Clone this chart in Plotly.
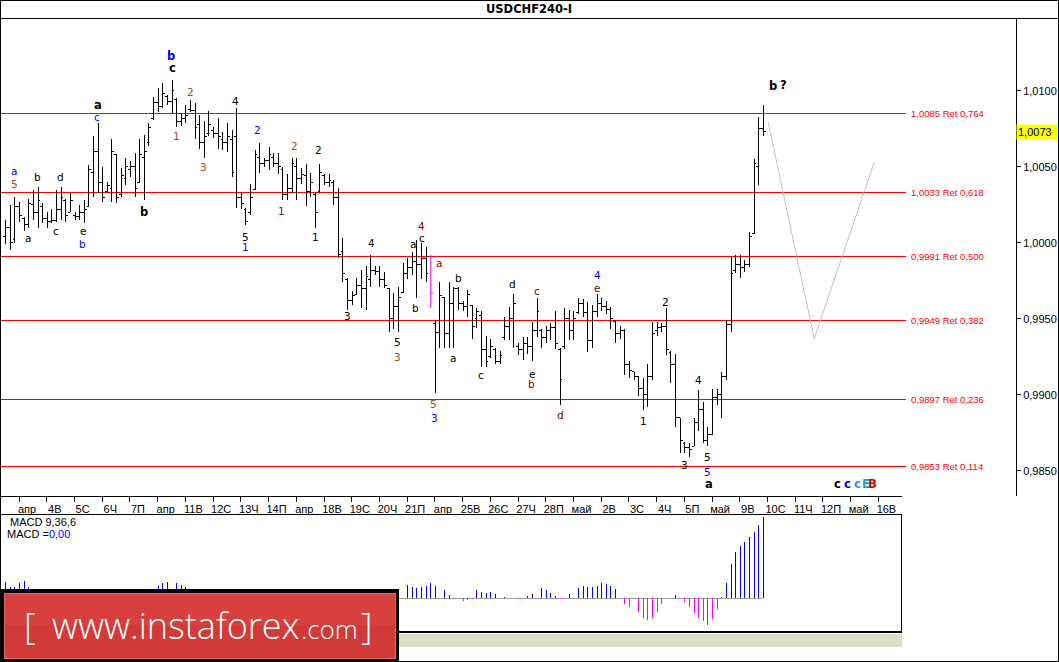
import plotly.graph_objects as go

W, H = 1059, 662

# ---------------- data: USDCHF H4 bars (bar index 0..164) ----------------
bar_open = [1.0004, 1.0010, 1.0002, 1.0024, 1.0016, 1.0012, 1.0025, 1.0020, 1.0024, 1.0016,
            1.0014, 1.0015, 1.0022, 1.0028, 1.0020, 1.0018, 1.0017, 1.0020, 1.0024, 1.0046,
            1.0060, 1.0040, 1.0034, 1.0036, 1.0058, 1.0032, 1.0042, 1.0048, 1.0050, 1.0040,
            1.0056, 1.0066, 1.0082, 1.0092, 1.0090, 1.0096, 1.0093, 1.0094, 1.0080, 1.0082,
            1.0088, 1.0087, 1.0078, 1.0066, 1.0072, 1.0074, 1.0072, 1.0068, 1.0066, 1.0068,
            1.0070, 1.0030, 1.0022, 1.0020, 1.0035, 1.0056, 1.0052, 1.0054, 1.0056, 1.0052,
            1.0048, 1.0032, 1.0036, 1.0050, 1.0042, 1.0044, 1.0034, 1.0032, 1.0034, 1.0044,
            1.0040, 1.0040, 1.0030, 0.9994, 0.9976, 0.9962, 0.9966, 0.9972, 0.9970, 0.9976,
            0.9982, 0.9981, 0.9976, 0.9970, 0.9950, 0.9958, 0.9967, 0.9980, 0.9984, 0.9988,
            0.9986, 0.9990, 0.9980, 0.9947, 0.9941, 0.9964, 0.9940, 0.9960, 0.9970, 0.9960,
            0.9958, 0.9959, 0.9950, 0.9952, 0.9930, 0.9925, 0.9930, 0.9922, 0.9938, 0.9945,
            0.9950, 0.9932, 0.9930, 0.9934, 0.9932, 0.9942, 0.9942, 0.9938, 0.9942, 0.9944,
            0.9930, 0.9932, 0.9950, 0.9942, 0.9954, 0.9960, 0.9954, 0.9936, 0.9955, 0.9960,
            0.9958, 0.9956, 0.9948, 0.9940, 0.9942, 0.9920, 0.9915, 0.9912, 0.9904, 0.9900,
            0.9912, 0.9942, 0.9944, 0.9945, 0.9928, 0.9920, 0.9885, 0.9868, 0.9865, 0.9866,
            0.9882, 0.9890, 0.9870, 0.9874, 0.9898, 0.9900, 0.9912, 0.9946, 0.9982, 0.9986,
            0.9984, 0.9986, 1.0006, 1.0050, 1.0075]
bar_high = [1.0015, 1.0025, 1.0030, 1.0027, 1.0017, 1.0029, 1.0035, 1.0037, 1.0026, 1.0020,
            1.0022, 1.0035, 1.0037, 1.0029, 1.0033, 1.0020, 1.0025, 1.0028, 1.0051, 1.0070,
            1.0079, 1.0050, 1.0040, 1.0068, 1.0058, 1.0049, 1.0056, 1.0054, 1.0059, 1.0068,
            1.0071, 1.0079, 1.0096, 1.0102, 1.0105, 1.0097, 1.0107, 1.0095, 1.0085, 1.0091,
            1.0094, 1.0092, 1.0084, 1.0080, 1.0087, 1.0076, 1.0082, 1.0073, 1.0079, 1.0074,
            1.0089, 1.0033, 1.0023, 1.0039, 1.0061, 1.0066, 1.0056, 1.0063, 1.0059, 1.0059,
            1.0050, 1.0045, 1.0056, 1.0056, 1.0049, 1.0052, 1.0046, 1.0033, 1.0052, 1.0045,
            1.0045, 1.0041, 1.0036, 1.0003, 0.9977, 0.9968, 0.9977, 0.9982, 0.9985, 0.9992,
            0.9985, 0.9985, 0.9981, 0.9970, 0.9967, 0.9971, 0.9987, 0.9990, 0.9994, 1.0002,
            1.0000, 0.9997, 0.9992, 0.9949, 0.9974, 0.9964, 0.9974, 0.9971, 0.9971, 0.9962,
            0.9969, 0.9959, 0.9957, 0.9955, 0.9939, 0.9937, 0.9931, 0.9929, 0.9951, 0.9958,
            0.9966, 0.9934, 0.9938, 0.9938, 0.9948, 0.9964, 0.9943, 0.9945, 0.9947, 0.9955,
            0.9931, 0.9957, 0.9956, 0.9955, 0.9964, 0.9963, 0.9961, 0.9959, 0.9966, 0.9964,
            0.9962, 0.9958, 0.9949, 0.9945, 0.9943, 0.9922, 0.9915, 0.9912, 0.9911, 0.9920,
            0.9948, 0.9948, 0.9947, 0.9957, 0.9929, 0.9927, 0.9885, 0.9869, 0.9868, 0.9885,
            0.9903, 0.9895, 0.9879, 0.9904, 0.9904, 0.9915, 0.9949, 0.9991, 0.9992, 0.9992,
            0.9989, 1.0007, 1.0055, 1.0083, 1.0091]
bar_low = [0.9999, 0.9995, 1.0000, 1.0014, 1.0008, 1.0010, 1.0015, 1.0010, 1.0013, 1.0010,
           1.0013, 1.0014, 1.0015, 1.0014, 1.0020, 1.0015, 1.0015, 1.0013, 1.0024, 1.0030,
           1.0033, 1.0027, 1.0033, 1.0027, 1.0026, 1.0030, 1.0038, 1.0043, 1.0030, 1.0040,
           1.0028, 1.0064, 1.0081, 1.0086, 1.0089, 1.0091, 1.0085, 1.0076, 1.0077, 1.0079,
           1.0086, 1.0068, 1.0062, 1.0056, 1.0070, 1.0069, 1.0062, 1.0061, 1.0060, 1.0043,
           1.0023, 1.0022, 1.0012, 1.0018, 1.0035, 1.0046, 1.0050, 1.0048, 1.0050, 1.0045,
           1.0028, 1.0028, 1.0033, 1.0028, 1.0039, 1.0024, 1.0030, 1.0010, 1.0033, 1.0038,
           1.0037, 1.0025, 0.9990, 0.9974, 0.9956, 0.9959, 0.9966, 0.9957, 0.9956, 0.9971,
           0.9979, 0.9971, 0.9970, 0.9941, 0.9943, 0.9941, 0.9967, 0.9976, 0.9979, 0.9964,
           0.9976, 0.9974, 0.9957, 0.9901, 0.9931, 0.9931, 0.9931, 0.9931, 0.9956, 0.9955,
           0.9951, 0.9937, 0.9944, 0.9918, 0.9918, 0.9924, 0.9920, 0.9920, 0.9936, 0.9936,
           0.9931, 0.9926, 0.9923, 0.9927, 0.9922, 0.9938, 0.9931, 0.9934, 0.9936, 0.9930,
           0.9893, 0.9930, 0.9936, 0.9936, 0.9953, 0.9951, 0.9928, 0.9931, 0.9951, 0.9955,
           0.9953, 0.9943, 0.9934, 0.9937, 0.9913, 0.9911, 0.9910, 0.9899, 0.9890, 0.9892,
           0.9910, 0.9939, 0.9941, 0.9926, 0.9908, 0.9879, 0.9862, 0.9862, 0.9859, 0.9866,
           0.9876, 0.9868, 0.9866, 0.9874, 0.9893, 0.9885, 0.9910, 0.9941, 0.9980, 0.9977,
           0.9981, 0.9984, 1.0006, 1.0038, 1.0070]
bar_close = [1.0010, 1.0000, 1.0024, 1.0018, 1.0012, 1.0026, 1.0020, 1.0028, 1.0016, 1.0014,
             1.0015, 1.0022, 1.0030, 1.0018, 1.0028, 1.0017, 1.0020, 1.0022, 1.0048, 1.0060,
             1.0040, 1.0030, 1.0038, 1.0060, 1.0030, 1.0044, 1.0050, 1.0050, 1.0036, 1.0058,
             1.0060, 1.0076, 1.0092, 1.0090, 1.0098, 1.0093, 1.0100, 1.0080, 1.0082, 1.0084,
             1.0087, 1.0076, 1.0066, 1.0070, 1.0078, 1.0072, 1.0070, 1.0066, 1.0070, 1.0046,
             1.0030, 1.0026, 1.0014, 1.0030, 1.0058, 1.0052, 1.0054, 1.0058, 1.0052, 1.0050,
             1.0032, 1.0036, 1.0052, 1.0042, 1.0045, 1.0034, 1.0040, 1.0020, 1.0046, 1.0040,
             1.0041, 1.0030, 0.9992, 0.9980, 0.9962, 0.9965, 0.9972, 0.9970, 0.9978, 0.9982,
             0.9981, 0.9976, 0.9972, 0.9950, 0.9958, 0.9964, 0.9980, 0.9984, 0.9988, 0.9986,
             0.9990, 0.9980, 0.9967, 0.9941, 0.9965, 0.9940, 0.9960, 0.9970, 0.9960, 0.9958,
             0.9966, 0.9945, 0.9955, 0.9930, 0.9922, 0.9932, 0.9922, 0.9926, 0.9945, 0.9950,
             0.9960, 0.9930, 0.9934, 0.9932, 0.9942, 0.9955, 0.9938, 0.9942, 0.9944, 0.9934,
             0.9910, 0.9950, 0.9942, 0.9950, 0.9960, 0.9954, 0.9936, 0.9955, 0.9960, 0.9958,
             0.9956, 0.9950, 0.9940, 0.9942, 0.9920, 0.9916, 0.9912, 0.9904, 0.9900, 0.9912,
             0.9940, 0.9944, 0.9945, 0.9930, 0.9920, 0.9885, 0.9870, 0.9865, 0.9864, 0.9882,
             0.9890, 0.9870, 0.9874, 0.9898, 0.9900, 0.9912, 0.9946, 0.9980, 0.9986, 0.9984,
             0.9986, 1.0004, 1.0052, 1.0075, 1.0073]
marked_bar = 92  # bar drawn in magenta

# MACD(9,36,6) histogram
macd_hist = [0.0016, 0.0011, 0.0011, 0.0015, 0.0017, 0.0011, 0.0007, 0.0005, 0.0004, 0.0002,
             0.0001, 0.0001, 0.0002, 0.0001, 0.0000, -0.0001, -0.0001, 0.0000, 0.0002, 0.0005,
             0.0007, 0.0007, 0.0006, 0.0005, 0.0006, 0.0006, 0.0006, 0.0006, 0.0005, 0.0005,
             0.0005, 0.0006, 0.0009, 0.0012, 0.0015, 0.0016, 0.0016, 0.0015, 0.0013, 0.0011,
             0.0007, 0.0005, 0.0003, 0.0001, -0.0001, -0.0002, -0.0003, -0.0003, -0.0004, -0.0005,
             -0.0006, -0.0007, -0.0010, -0.0012, -0.0011, -0.0008, -0.0005, -0.0004, -0.0002, -0.0001,
             -0.0001, -0.0003, -0.0004, -0.0004, -0.0004, -0.0004, -0.0005, -0.0005, -0.0007, -0.0007,
             -0.0006, -0.0006, -0.0007, -0.0010, -0.0014, -0.0017, -0.0018, -0.0017, -0.0015, -0.0012,
             -0.0009, -0.0007, -0.0005, -0.0003, -0.0002, 0.0003, 0.0011, 0.0013, 0.0011, 0.0010,
             0.0011, 0.0012, 0.0015, 0.0012, 0.0013, 0.0008, 0.0003, -0.0001, 0.00003, -0.0003,
             -0.0002, -0.0001, 0.0008, 0.0006, 0.0005, 0.0006, 0.0004, 0.00005, 0.0001, 0.00003,
             0.00003, -0.00005, 0.00003, 0.00023, 0.00043, 0.00103, 0.00103, 0.00083, 0.0005, 0.00017,
             -0.00005, 0.00003, 0.00043, 0.00077, 0.00097, 0.00123, 0.00113, 0.0011, 0.00117, 0.00153,
             0.00143, 0.00117, 0.00087, 0.00003, -0.00057, -0.0009, -0.00107, -0.00143, -0.00197, -0.00223,
             -0.00203, -0.00143, -0.00057, 0.00003, 0.00033, 0.00033, 0.0, -0.00043, -0.00093, -0.00153,
             -0.0020, -0.00233, -0.00267, -0.0021, -0.0011, 0.0001, 0.00153, 0.00343, 0.00463, 0.00523,
             0.00563, 0.00613, 0.00663, 0.00733, 0.00813]

# Fibonacci retracement levels
fib_levels = [1.0085, 1.0033, 0.9991, 0.9949, 0.9897, 0.9853]
fib_ratios = [0.764, 0.618, 0.500, 0.382, 0.236, 0.114]

# projected path (grey)
proj_bar = [165.0, 175.0, 188.0]
proj_price = [1.0080, 0.9937, 1.0053]

# x-axis day labels (one every 6 bars)
day_labels = ["апр", "4В", "5С", "6Ч", "7П", "апр", "11В", "12С", "13Ч", "14П", "апр",
              "18В", "19С", "20Ч", "21П", "апр", "25В", "26С", "27Ч", "28П", "май", "2В",
              "3С", "4Ч", "5П", "май", "9В", "10С", "11Ч", "12П", "май", "16В"]
first_label_bar = 2.9
bars_per_day = 6

price_ticks = [0.9850, 0.9900, 0.9950, 1.0000, 1.0050, 1.0100]

# wave labels
BLK, BLU, MAR, ORG, PUR, LBL, RED = "#000000", "#0000ff", "#800000", "#a0501e", "#800060", "#1e9be0", "#d00000"
wave_text = ["b", "c", "a", "c", "2", "1", "3", "4", "a", "5", "b", "d", "a", "c", "e", "b", "b",
             "5", "1", "2", "1", "2", "2", "1", "3", "4", "a", "4", "c", "b", "5", "3", "a", "b",
             "5", "3", "a", "c", "d", "c", "e", "b", "d", "4", "e", "1", "2", "3", "4", "5", "5",
             "a", "b", "?", "c", "c", "c", "E", "B"]
wave_bar = [35.8, 36.0, 20.0, 19.8, 39.9, 36.9, 42.9, 49.8, 1.8, 1.8, 6.8, 11.8, 4.8, 10.9, 16.7, 16.7, 29.9,
            51.8, 51.8, 54.6, 59.8, 62.6, 67.8, 67.0, 73.9, 79.1, 88.2, 89.9, 90.1, 88.8, 84.9, 84.9, 93.8, 97.9,
            92.7, 92.9, 96.8, 102.9, 109.8, 115.0, 113.9, 113.9, 120.0, 128.0, 128.0, 138.0, 142.9, 147.0, 149.9, 152.0, 152.0,
            152.2, 166.1, 168.3, 180.1, 182.1, 184.3, 186.2, 187.7]
wave_price = [1.0123, 1.0115, 1.0091, 1.0083, 1.0099, 1.0070, 1.0050, 1.0093, 1.0047, 1.0039, 1.0043, 1.0043, 1.0003, 1.0008, 1.0008, 0.9999, 1.0020,
              1.0004, 0.9997, 1.0074, 1.0021, 1.0064, 1.0061, 1.0004, 0.9952, 1.0000, 0.9999, 1.0011, 1.0003, 0.9957, 0.9935, 0.9925, 0.9987, 0.9977,
              0.9894, 0.9885, 0.9924, 0.9913, 0.9973, 0.9968, 0.9914, 0.9907, 0.9887, 0.9979, 0.9970, 0.9883, 0.9961, 0.9854, 0.9910, 0.9859, 0.9849,
              0.9841, 1.0103, 1.0104, 0.9841, 0.9841, 0.9841, 0.9841, 0.9841]
wave_color = [BLU, BLK, BLK, BLU, ORG, ORG, ORG, BLK, BLU, ORG, BLK, BLK, BLK, BLK, BLK, BLU, BLK,
              BLK, BLU, BLU, PUR, ORG, BLK, BLK, BLK, BLK, BLK, MAR, BLK, BLK, BLK, ORG, MAR, BLK,
              ORG, BLU, BLK, BLK, BLK, MAR, BLK, MAR, MAR, BLU, MAR, BLK, BLK, BLK, BLK, BLK, BLU,
              BLK, BLK, BLK, BLK, BLU, LBL, LBL, RED]
wave_bold = [1, 1, 1, 0, 0, 0, 0, 0, 0, 0, 0, 0, 0, 0, 0, 0, 1,
             0, 0, 0, 0, 0, 0, 0, 0, 0, 0, 0, 0, 0, 0, 0, 0, 0,
             0, 0, 0, 0, 0, 0, 0, 0, 0, 0, 0, 0, 0, 0, 0, 0, 0,
             1, 1, 1, 1, 1, 1, 1, 1]

# ---------------- geometry (pixels of the 1059x662 canvas) ----------------
PPB = 4.62          # pixels per bar
X_FIRST = 5.7       # pixel of bar 0
MAIN_L, MAIN_R, MAIN_T, MAIN_B = 0, 1016, 18, 496
MACD_R, MACD_T, MACD_B = 901, 514, 632
P_PER_PX = 0.0000658


def px_x(p):
    return p / W


def px_y(p):
    return 1 - p / H


def bar_at(px):
    return (px - X_FIRST) / PPB


price_top = 1.0 + (242.8 - MAIN_T) * P_PER_PX
price_bot = 1.0 + (242.8 - MAIN_B) * P_PER_PX

fig = go.Figure()

idx = list(range(len(bar_close)))
keep = [i for i in idx if i != marked_bar]
fig.add_trace(go.Ohlc(
    x=keep,
    open=[bar_open[i] for i in keep], high=[bar_high[i] for i in keep],
    low=[bar_low[i] for i in keep], close=[bar_close[i] for i in keep],
    increasing=dict(line=dict(color="black", width=1)),
    decreasing=dict(line=dict(color="black", width=1)),
    tickwidth=0.5, hoverinfo="skip", showlegend=False, xaxis="x", yaxis="y"))

m = marked_bar
fig.add_trace(go.Scatter(
    x=[m, m, None, m, m + 0.5],
    y=[bar_low[m], bar_high[m], None, bar_close[m], bar_close[m]],
    mode="lines", line=dict(color="#ff00ff", width=1), hoverinfo="skip", showlegend=False,
    xaxis="x", yaxis="y"))

fig.add_trace(go.Scatter(x=proj_bar, y=proj_price, mode="lines",
                         line=dict(color="#c0c0c0", width=1), hoverinfo="skip",
                         showlegend=False, xaxis="x", yaxis="y"))

fig.add_trace(go.Bar(x=idx, y=macd_hist, width=0.2,
                     marker=dict(color=["#0000ff" if v >= 0 else "#ff00ff" for v in macd_hist],
                                 line=dict(width=0)),
                     hoverinfo="skip", showlegend=False, xaxis="x2", yaxis="y2"))

tick_bars = [first_label_bar + bars_per_day * j for j in range(len(day_labels))]

fig.update_layout(
    width=W, height=H, margin=dict(l=0, r=0, t=0, b=0),
    paper_bgcolor="white", plot_bgcolor="white", template="none",
    separators=",.", showlegend=False, bargap=0,
    xaxis=dict(domain=[px_x(MAIN_L), px_x(MAIN_R)], anchor="y",
               range=[bar_at(MAIN_L), bar_at(MAIN_R)], rangeslider=dict(visible=False),
               showgrid=False, zeroline=False, showline=False,
               tickmode="array", tickvals=tick_bars, ticktext=day_labels,
               ticks="outside", ticklen=5, tickwidth=1, tickcolor="black",
               ticklabelshift=8, ticklabelstandoff=-2,
               tickfont=dict(family="Liberation Sans", size=11, color="black")),
    yaxis=dict(domain=[px_y(MAIN_B), px_y(MAIN_T)], anchor="x", side="right",
               range=[price_bot, price_top], showgrid=False, zeroline=False,
               showline=True, linecolor="black", linewidth=1,
               tickmode="array", tickvals=price_ticks, tickformat=".4f",
               ticks="outside", ticklen=4, tickcolor="black",
               tickfont=dict(family="Liberation Sans", size=11, color="black")),
    xaxis2=dict(domain=[0, px_x(MACD_R)], anchor="y2",
                range=[bar_at(0), bar_at(MACD_R)], showgrid=False, zeroline=False,
                showline=False, showticklabels=False, ticks=""),
    yaxis2=dict(domain=[px_y(MACD_B), px_y(MACD_T)], anchor="x2",
                range=[-0.0034, 0.0084], showgrid=False, zeroline=False,
                showline=False, showticklabels=False, ticks=""),
)

shapes = []
# fib lines
for lv in fib_levels:
    shapes.append(dict(type="line", xref="paper", yref="y", x0=0, x1=px_x(906), y0=lv, y1=lv,
                       line=dict(color="#ff0000", width=1), layer="below"))
# title separator
shapes.append(dict(type="line", xref="paper", yref="paper", x0=0, x1=1, y0=px_y(18), y1=px_y(18),
                   line=dict(color="black", width=1)))
# x-axis line
shapes.append(dict(type="line", xref="paper", yref="paper", x0=0, x1=px_x(902), y0=px_y(496.5), y1=px_y(496.5),
                   line=dict(color="black", width=1)))
# MACD panel
shapes.append(dict(type="rect", xref="paper", yref="paper", x0=0, x1=px_x(MACD_R), y0=px_y(MACD_B), y1=px_y(MACD_T),
                   line=dict(color="black", width=1), fillcolor="rgba(0,0,0,0)"))
shapes.append(dict(type="line", xref="paper", yref="paper", x0=0, x1=px_x(902), y0=px_y(632), y1=px_y(632),
                   line=dict(color="black", width=2)))
shapes.append(dict(type="rect", xref="paper", yref="paper", x0=0, x1=px_x(902), y0=px_y(647), y1=px_y(633.5),
                   line=dict(width=0), fillcolor="#dddcc4"))
shapes.append(dict(type="line", xref="x2", yref="y2", x0=bar_at(0), x1=idx[-1], y0=0, y1=0,
                   line=dict(color="#a0a0a0", width=1), layer="below"))
# logo
shapes.append(dict(type="rect", xref="paper", yref="paper", x0=0, x1=px_x(399), y0=0, y1=px_y(589),
                   line=dict(width=0), fillcolor="#000000"))
shapes.append(dict(type="rect", xref="paper", yref="paper", x0=px_x(4), x1=px_x(395), y0=px_y(658), y1=px_y(593),
                   line=dict(width=1, color="#e06a6a"), fillcolor="#d23a3a"))
shapes.append(dict(type="rect", xref="paper", yref="paper", x0=px_x(5), x1=px_x(394), y0=px_y(625), y1=px_y(594),
                   line=dict(width=0), fillcolor="#d84040"))
# outer border
shapes.append(dict(type="rect", xref="paper", yref="paper", x0=0, x1=1, y0=0, y1=1,
                   line=dict(color="black", width=2), fillcolor="rgba(0,0,0,0)"))
fig.update_layout(shapes=shapes)

ann = []
ann.append(dict(text="<b>USDCHF240-I</b>", xref="paper", yref="paper", x=px_x(529), y=px_y(9.5),
                showarrow=False, xanchor="center", yanchor="middle",
                font=dict(family="DejaVu Sans", size=11.5, color="black")))
for lv, r in zip(fib_levels, fib_ratios):
    txt = (f"{lv:.4f} Ret {r:.3f}").replace(".", ",")
    ann.append(dict(text=txt, xref="paper", yref="y", x=px_x(909), y=lv, showarrow=False,
                    xanchor="left", yanchor="middle",
                    font=dict(family="Liberation Sans", size=9.5, color="#ff0000")))
ann.append(dict(text=f"{bar_close[-1]:.4f}".replace(".", ","), xref="paper", yref="y",
                x=px_x(1016), y=bar_close[-1], showarrow=False, xanchor="left", yanchor="middle",
                bgcolor="#ffff00", borderpad=1, width=38, align="left",
                font=dict(family="Liberation Sans", size=11, color="black")))
for t, b, p, c, bd in zip(wave_text, wave_bar, wave_price, wave_color, wave_bold):
    ann.append(dict(text=(f"<b>{t}</b>" if bd else t), xref="x", yref="y", x=b, y=p,
                    showarrow=False, xanchor="center", yanchor="middle",
                    font=dict(family="DejaVu Sans", size=(11.5 if bd else 10.5), color=c)))
ann.append(dict(text="MACD 9,36,6", xref="paper", yref="paper", x=px_x(8), y=px_y(522),
                showarrow=False, xanchor="left", yanchor="middle",
                font=dict(family="Liberation Sans", size=11, color="black")))
ann.append(dict(text="MACD =<span style='color:#0000ff'>0,00</span>", xref="paper", yref="paper",
                x=px_x(5), y=px_y(533.5), showarrow=False, xanchor="left", yanchor="middle",
                font=dict(family="Liberation Sans", size=11, color="black")))
# logo text
logo_font = dict(family="Open Sans", size=36, color="white", weight=300)
ann.append(dict(text="[", xref="paper", yref="paper", x=px_x(29), y=px_y(625), showarrow=False,
                xanchor="center", yanchor="middle", font=logo_font))
ann.append(dict(text="www.instaforex", xref="paper", yref="paper", x=px_x(50), y=px_y(625), showarrow=False,
                xanchor="left", yanchor="middle", font=logo_font))
ann.append(dict(text=".com", xref="paper", yref="paper", x=px_x(299), y=px_y(629), showarrow=False,
                xanchor="left", yanchor="middle", font=dict(family="Open Sans", size=26, color="white", weight=300)))
ann.append(dict(text="]", xref="paper", yref="paper", x=px_x(366), y=px_y(625), showarrow=False,
                xanchor="center", yanchor="middle", font=logo_font))
fig.update_layout(annotations=ann)

fig.write_html("out.html", config={"displayModeBar": False, "staticPlot": True},
               post_script="document.body.style.margin='0';document.body.style.padding='0';"
                           "document.body.style.overflow='hidden';"
                           "var s=document.createElement('style');"
                           "s.textContent='.ohlc path, .shapelayer path, .bars path {shape-rendering:crispEdges;}';"
                           "document.head.appendChild(s);")
